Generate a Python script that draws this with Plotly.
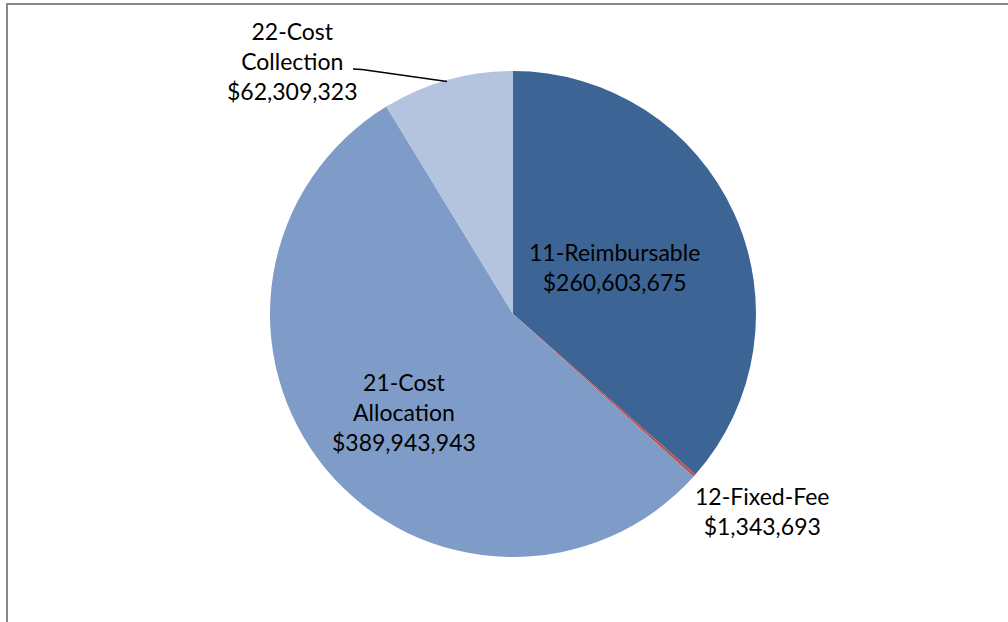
import plotly.graph_objects as go

W, H = 1008, 622

categories = ["11-Reimbursable", "12-Fixed-Fee", "21-Cost Allocation", "22-Cost Collection"]
values = [260603675, 1343693, 389943943, 62309323]
label_texts = ["11-Reimbursable<br>$260,603,675", "12-Fixed-Fee<br>$1,343,693",
               "21-Cost<br>Allocation<br>$389,943,943", "22-Cost<br>Collection<br>$62,309,323"]
colors = ["#3C6595", "#C0504D", "#7F9CC8", "#B4C3DE"]

def px_x(x):
    return x / W

def px_y(y):
    return 1 - y / H

fig = go.Figure(go.Pie(
    labels=categories,
    values=values,
    sort=False,
    direction="clockwise",
    rotation=0,
    marker=dict(colors=colors, line=dict(width=0)),
    textinfo="none",
    hoverinfo="label+value",
    showlegend=False,
    domain=dict(x=[px_x(270), px_x(756)], y=[px_y(557), px_y(71)]),
))

font = dict(family="Lato, 'Open Sans', sans-serif", size=23, color="#000000")
label_pos = [(614, 267), (762, 511), (404, 412), (292, 61)]
for txt, (x, y) in zip(label_texts, label_pos):
    fig.add_annotation(x=px_x(x), y=px_y(y), xref="paper", yref="paper", text=txt,
                       showarrow=False, font=font, align="center",
                       xanchor="center", yanchor="middle")

# leader line for 22-Cost Collection
fig.add_shape(type="path", xref="paper", yref="paper",
              path=f"M {px_x(353)} {px_y(69)} L {px_x(362)} {px_y(69.5)} L {px_x(447)} {px_y(81.5)}",
              line=dict(color="#000000", width=1.5))

# frame lines (left and top)
fig.add_shape(type="line", xref="paper", yref="paper", x0=px_x(7), y0=px_y(4), x1=px_x(7), y1=0,
              line=dict(color="#888888", width=2))
fig.add_shape(type="line", xref="paper", yref="paper", x0=px_x(6), y0=px_y(4), x1=1, y1=px_y(4),
              line=dict(color="#888888", width=2))

fig.update_layout(width=W, height=H, margin=dict(l=0, r=0, t=0, b=0),
                  paper_bgcolor="white", plot_bgcolor="white")

fig.write_html("out.html", config={"displayModeBar": False},
               post_script="document.body.style.margin='0';")
